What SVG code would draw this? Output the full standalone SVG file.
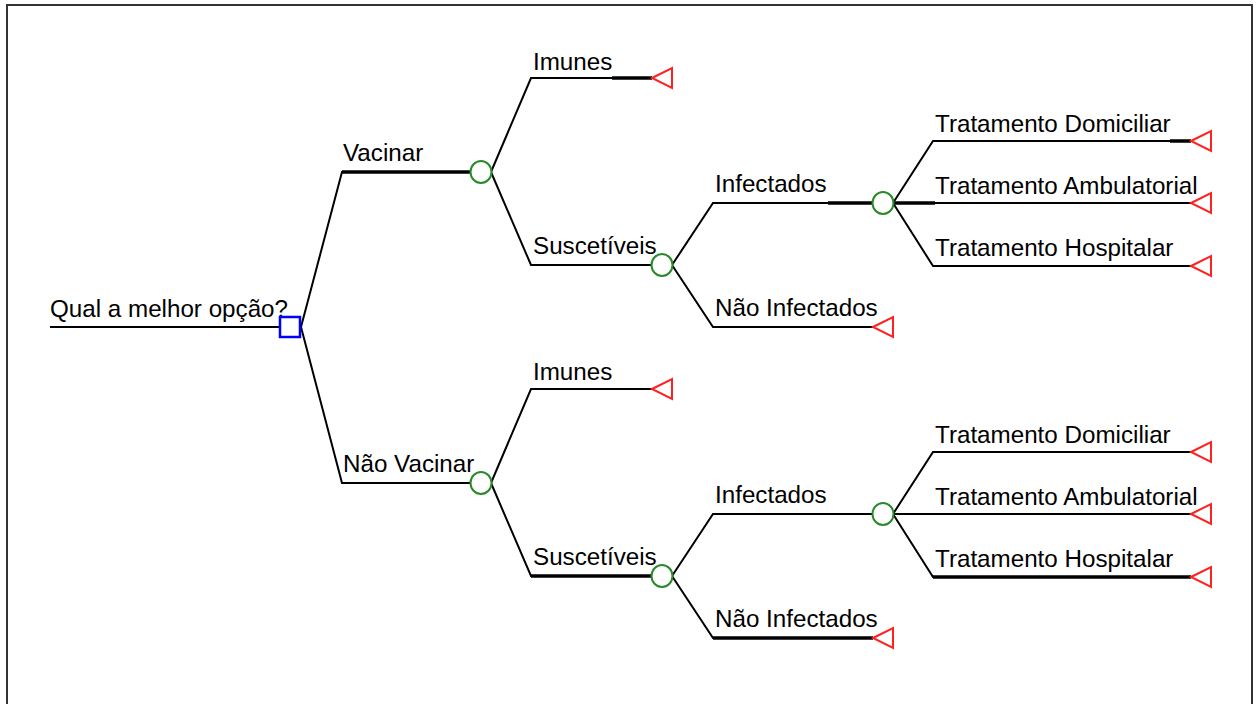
<svg xmlns="http://www.w3.org/2000/svg" width="1256" height="704" viewBox="0 0 1256 704">
<style>
.ln{stroke:#000;stroke-width:2;fill:none}
.thk{stroke:#000;stroke-width:3.5;fill:none}
.dec{stroke:#0000ff;stroke-width:2.5;fill:#fff}
.ch{stroke:#2a8a2a;stroke-width:2;fill:#fff}
.term{stroke:#ff2020;stroke-width:2;fill:#fff;stroke-linejoin:miter}
text{font-family:"Liberation Sans",Arial,sans-serif;font-size:24.2px;fill:#000}
</style>
<rect width="1256" height="704" fill="#fff"/>
<path d="M7,704 V5 H1252 V704" fill="none" stroke="#333" stroke-width="2"/>
<g id="connectors">
<path class="ln" d="M50,327 H280"/>
<path class="ln" d="M301,327 L342,172 H470"/>
<path class="ln" d="M301,327 L342,483 H470"/>
<path class="ln" d="M491,172 L531,78 H652"/>
<path class="ln" d="M491,172 L531,265 H651"/>
<path class="ln" d="M672,265 L713,203 H872"/>
<path class="ln" d="M672,265 L713,327 H873"/>
<path class="ln" d="M893,203 L933,141 H1191"/>
<path class="ln" d="M893,203 H1191"/>
<path class="ln" d="M893,203 L933,266 H1191"/>
<path class="ln" d="M491,483 L531,389 H652"/>
<path class="ln" d="M491,483 L531,576 H651"/>
<path class="ln" d="M672,576 L713,514 H872"/>
<path class="ln" d="M672,576 L713,638 H873"/>
<path class="ln" d="M893,514 L933,452 H1191"/>
<path class="ln" d="M893,514 H1191"/>
<path class="ln" d="M893,514 L933,577 H1191"/>
<path class="thk" d="M342,172 H470"/>
<path class="thk" d="M612,78 H652"/>
<path class="thk" d="M828,203 H872"/>
<path class="thk" d="M1170,141 H1191"/>
<path class="thk" d="M893,203 H935"/>
<path class="thk" d="M531,576 H651"/>
<path class="thk" d="M933,577 H1191"/>
<path class="thk" d="M713,638 H873"/>
</g>
<g id="root">
<text x="50" y="317">Qual a melhor opção?</text>
<rect class="dec" x="280" y="317" width="20" height="20"/>
</g>
<g id="vacinar">
<text x="343" y="161">Vacinar</text>
<ellipse class="ch" cx="481" cy="172" rx="10.5" ry="11"/>
</g>
<g id="vac-imunes">
<text x="533" y="70">Imunes</text>
<polygon class="term" points="652,78 672,68 672,88"/>
</g>
<g id="vac-suscetiveis">
<text x="533" y="254">Suscetíveis</text>
<ellipse class="ch" cx="662" cy="265" rx="10.5" ry="11"/>
</g>
<g id="vac-infectados">
<text x="715" y="192">Infectados</text>
<ellipse class="ch" cx="883" cy="203" rx="10.5" ry="11"/>
</g>
<g id="vac-nao-infectados">
<text x="715" y="316">Não Infectados</text>
<polygon class="term" points="873,327 893,317 893,337"/>
</g>
<g id="vac-domiciliar">
<text x="935" y="132">Tratamento Domiciliar</text>
<polygon class="term" points="1191,141 1211,131 1211,151"/>
</g>
<g id="vac-ambulatorial">
<text x="935" y="194">Tratamento Ambulatorial</text>
<polygon class="term" points="1191,203 1211,193 1211,213"/>
</g>
<g id="vac-hospitalar">
<text x="935" y="256">Tratamento Hospitalar</text>
<polygon class="term" points="1191,266 1211,256 1211,276"/>
</g>
<g id="naovacinar">
<text x="343" y="472">Não Vacinar</text>
<ellipse class="ch" cx="481" cy="483" rx="10.5" ry="11"/>
</g>
<g id="nv-imunes">
<text x="533" y="380">Imunes</text>
<polygon class="term" points="652,389 672,379 672,399"/>
</g>
<g id="nv-suscetiveis">
<text x="533" y="565">Suscetíveis</text>
<ellipse class="ch" cx="662" cy="576" rx="10.5" ry="11"/>
</g>
<g id="nv-infectados">
<text x="715" y="503">Infectados</text>
<ellipse class="ch" cx="883" cy="514" rx="10.5" ry="11"/>
</g>
<g id="nv-nao-infectados">
<text x="715" y="627">Não Infectados</text>
<polygon class="term" points="873,638 893,628 893,648"/>
</g>
<g id="nv-domiciliar">
<text x="935" y="443">Tratamento Domiciliar</text>
<polygon class="term" points="1191,452 1211,442 1211,462"/>
</g>
<g id="nv-ambulatorial">
<text x="935" y="505">Tratamento Ambulatorial</text>
<polygon class="term" points="1191,514 1211,504 1211,524"/>
</g>
<g id="nv-hospitalar">
<text x="935" y="567">Tratamento Hospitalar</text>
<polygon class="term" points="1191,577 1211,567 1211,587"/>
</g>
</svg>
